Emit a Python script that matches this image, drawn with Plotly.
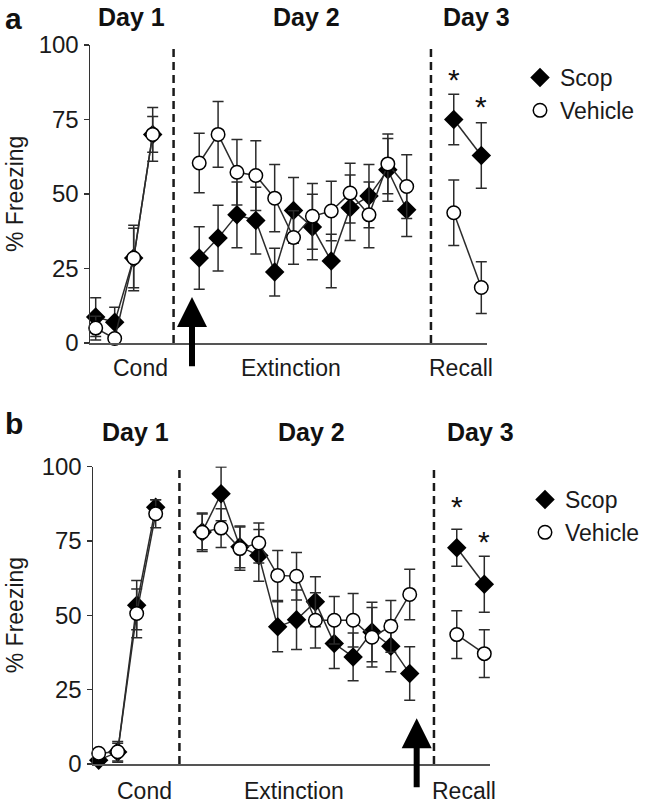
import plotly.graph_objects as go

# ---------------- data ----------------
# Panel a
a_scop_day1 = [8.7, 7.0, 28.5, 70.0]
a_scop_day1_err = [6.5, 5.0, 10.0, 6.0]
a_veh_day1 = [5.0, 1.5, 28.5, 70.0]
a_veh_day1_err = [4.0, 1.0, 11.0, 9.0]
a_scop_day2 = [28.5, 35.2, 43.0, 41.1, 23.8, 44.5, 38.9, 27.5, 45.4, 49.3, 58.1, 44.7]
a_scop_day2_err = [10.5, 11, 11, 11.2, 8, 11, 11, 9, 11, 10.6, 10.5, 9]
a_veh_day2 = [60.4, 70.0, 57.3, 56.2, 48.6, 35.4, 42.5, 44.3, 50.3, 43.0, 60.1, 52.5]
a_veh_day2_err = [10, 11, 11, 11.7, 11.3, 9, 11, 10, 10, 11, 10, 10.7]
a_scop_day3 = [75.0, 62.9]
a_scop_day3_err = [8.5, 11.0]
a_veh_day3 = [43.7, 18.6]
a_veh_day3_err = [11.0, 8.7]

# Panel b
b_scop_day1 = [1.3, 4.0, 53.4, 86.3]
b_scop_day1_err = [1.0, 3.0, 8.3, 2.5]
b_veh_day1 = [3.6, 4.1, 50.6, 84.1]
b_veh_day1_err = [1.0, 3.5, 8.2, 4.7]
b_scop_day2 = [78.0, 90.8, 73.0, 70.1, 46.1, 48.5, 54.5, 40.5, 36.0, 44.4, 39.6, 30.4]
b_scop_day2_err = [6, 9, 7, 8.7, 8.4, 10, 8.4, 8.4, 8, 10, 8.6, 9]
b_veh_day2 = [77.9, 79.3, 72.4, 74.3, 63.4, 63.1, 48.3, 48.3, 48.3, 42.6, 46.3, 57.0]
b_veh_day2_err = [6.5, 6.5, 7.3, 6.7, 8.4, 8, 9.3, 8, 9, 10, 8.7, 8.5]
b_scop_day3 = [72.7, 60.4]
b_scop_day3_err = [6.2, 9.4]
b_veh_day3 = [43.5, 37.1]
b_veh_day3_err = [8.0, 8.0]

y_ticks = [0, 25, 50, 75, 100]
day_labels = ["Day 1", "Day 2", "Day 3"]
phase_labels = ["Cond", "Extinction", "Recall"]
series_names = ["Scop", "Vehicle"]

# ---------------- layout helpers ----------------
FONT = "Liberation Sans, Arial, sans-serif"
W, H = 645, 804

def day_x(n1, n2, n3):
    d1 = [0.3 + i for i in range(n1)]
    d2 = [5.75 + 0.993 * i for i in range(n2)]
    d3 = [19.15, 20.6][:n3]
    return d1, d2, d3

def join(d1, d2, d3):
    return list(d1) + [None] + list(d2) + [None] + list(d3)

def px(v):  # horizontal pixel -> paper
    return v / W

def py(v):  # vertical pixel -> paper
    return 1 - v / H

fig = go.Figure()

panels = [
    dict(key="a", xa="x", ya="y",
         scop=(a_scop_day1, a_scop_day2, a_scop_day3),
         scop_e=(a_scop_day1_err, a_scop_day2_err, a_scop_day3_err),
         veh=(a_veh_day1, a_veh_day2, a_veh_day3),
         veh_e=(a_veh_day1_err, a_veh_day2_err, a_veh_day3_err),
         legend="legend", dividers=[4.4, 17.95], arrow_x=5.37,
         xdom=[px(90), px(487)], ydom=[py(343), py(45)],
         top=17, bottom=368, cond_x=140, ext_x=291, rec_x=461,
         day_x=[131, 306, 476], panel_y=19,
         stars=[90.5, 81.5]),
    dict(key="b", xa="x2", ya="y2",
         scop=(b_scop_day1, b_scop_day2, b_scop_day3),
         scop_e=(b_scop_day1_err, b_scop_day2_err, b_scop_day3_err),
         veh=(b_veh_day1, b_veh_day2, b_veh_day3),
         veh_e=(b_veh_day1_err, b_veh_day2_err, b_veh_day3_err),
         legend="legend2", dividers=[4.55, 17.95], arrow_x=17.04,
         xdom=[px(93), px(490)], ydom=[py(764), py(466.5)],
         top=432, bottom=791, cond_x=144, ext_x=294, rec_x=464,
         day_x=[135, 311, 481], panel_y=423,
         stars=[88.5, 76.8]),
]

LINE_C = "#2b2b2b"
annotations = []
shapes = []

for p in panels:
    d1, d2, d3 = day_x(len(p["scop"][0]), len(p["scop"][1]), len(p["scop"][2]))
    xs = join(d1, d2, d3)
    for name, vals, errs, sym in [
        (series_names[0], p["scop"], p["scop_e"], "diamond"),
        (series_names[1], p["veh"], p["veh_e"], "circle"),
    ]:
        ys = join(*vals)
        es = join(*errs)
        # connecting line + error bars (no legend entry)
        fig.add_trace(go.Scatter(
            x=xs, y=ys, name=name, mode="lines", showlegend=False,
            xaxis=p["xa"], yaxis=p["ya"], legend=p["legend"],
            cliponaxis=False, connectgaps=False, hoverinfo="skip",
            line=dict(color=LINE_C, width=1.5),
            error_y=dict(type="data", array=es, visible=True,
                         color=LINE_C, thickness=1.5, width=5.5),
        ))
        # markers (legend entry)
        fig.add_trace(go.Scatter(
            x=xs, y=ys, name=name, mode="markers",
            xaxis=p["xa"], yaxis=p["ya"], legend=p["legend"],
            cliponaxis=False,
            marker=dict(symbol=sym, size=15 if sym == "diamond" else 13.5,
                        color="black" if sym == "diamond" else "white",
                        line=dict(color="black", width=0 if sym == "diamond" else 1.5)),
        ))
    # dashed dividers
    for dx in p["dividers"]:
        shapes.append(dict(type="line", xref=p["xa"], yref=p["ya"],
                           x0=dx, x1=dx, y0=0, y1=100,
                           line=dict(color="#1a1a1a", width=2.5, dash="8px,5px")))
    # arrow
    annotations.append(dict(xref=p["xa"], yref=p["ya"], axref=p["xa"], ayref=p["ya"],
                            x=p["arrow_x"], y=15.4, ax=p["arrow_x"], ay=-8.3,
                            text="", showarrow=True, arrowhead=2, arrowsize=1,
                            arrowwidth=6, arrowcolor="black", standoff=0, startstandoff=0))
    # stars
    for sx, sy in zip(d3, p["stars"]):
        annotations.append(dict(xref=p["xa"], yref=p["ya"], x=sx, y=sy, text="*",
                                showarrow=False, font=dict(family=FONT, size=30, color="#111"),
                                yanchor="middle", yshift=-6))
    # panel letter
    annotations.append(dict(xref="paper", yref="paper", x=px(3), y=py(p["panel_y"]),
                            text="<b>%s</b>" % p["key"], showarrow=False, xanchor="left",
                            yanchor="middle", font=dict(family=FONT, size=30, color="#111")))
    # day labels
    for lbl, cx in zip(day_labels, p["day_x"]):
        annotations.append(dict(xref="paper", yref="paper", x=px(cx), y=py(p["top"]),
                                text="<b>%s</b>" % lbl, showarrow=False, xanchor="center",
                                yanchor="middle", font=dict(family=FONT, size=25, color="#111")))
    # phase labels
    for lbl, cx in zip(phase_labels, [p["cond_x"], p["ext_x"], p["rec_x"]]):
        annotations.append(dict(xref="paper", yref="paper", x=px(cx), y=py(p["bottom"]),
                                text=lbl, showarrow=False, xanchor="center",
                                yanchor="middle", font=dict(family=FONT, size=23, color="#1a1a1a")))
    # y title
    ymid = (p["ydom"][0] + p["ydom"][1]) / 2
    annotations.append(dict(xref="paper", yref="paper", x=px(15), y=ymid,
                            text="% Freezing", textangle=-90, showarrow=False,
                            xanchor="center", yanchor="middle",
                            font=dict(family=FONT, size=23, color="#1a1a1a")))

axis_common_x = dict(range=[0, 20.9], showline=True, linecolor="#555", linewidth=2,
                     showticklabels=False, ticks="", showgrid=False, zeroline=False,
                     fixedrange=True)
axis_common_y = dict(range=[0, 100], tickvals=y_ticks, showline=True, linecolor="#333",
                     linewidth=1.5, ticks="outside", ticklen=5, tickwidth=1.5, tickcolor="#333",
                     showgrid=False, zeroline=False,
                     tickfont=dict(family=FONT, size=24, color="#1a1a1a"))

legend_common = dict(xanchor="left", yanchor="top", bgcolor="rgba(0,0,0,0)",
                     font=dict(family=FONT, size=23, color="#1a1a1a"),
                     tracegroupgap=0, itemclick=False, itemdoubleclick=False,
                     borderwidth=0)

fig.update_layout(
    width=W, height=H,
    margin=dict(l=0, r=0, t=0, b=0, pad=0, autoexpand=False),
    paper_bgcolor="white", plot_bgcolor="white",
    font=dict(family=FONT, color="#1a1a1a"),
    xaxis=dict(domain=panels[0]["xdom"], anchor="y", **axis_common_x),
    yaxis=dict(domain=panels[0]["ydom"], anchor="x", **axis_common_y),
    xaxis2=dict(domain=panels[1]["xdom"], anchor="y2", **axis_common_x),
    yaxis2=dict(domain=panels[1]["ydom"], anchor="x2", **axis_common_y),
    legend=dict(x=px(520), y=py(56), **legend_common),
    legend2=dict(x=px(525), y=py(478), **legend_common),
    annotations=annotations,
    shapes=shapes,
    showlegend=True,
    hovermode=False,
)

fig.write_html("out.html",
               config={"displayModeBar": False, "staticPlot": True},
               post_script="document.body.style.margin='0px';document.body.style.overflow='hidden';")
